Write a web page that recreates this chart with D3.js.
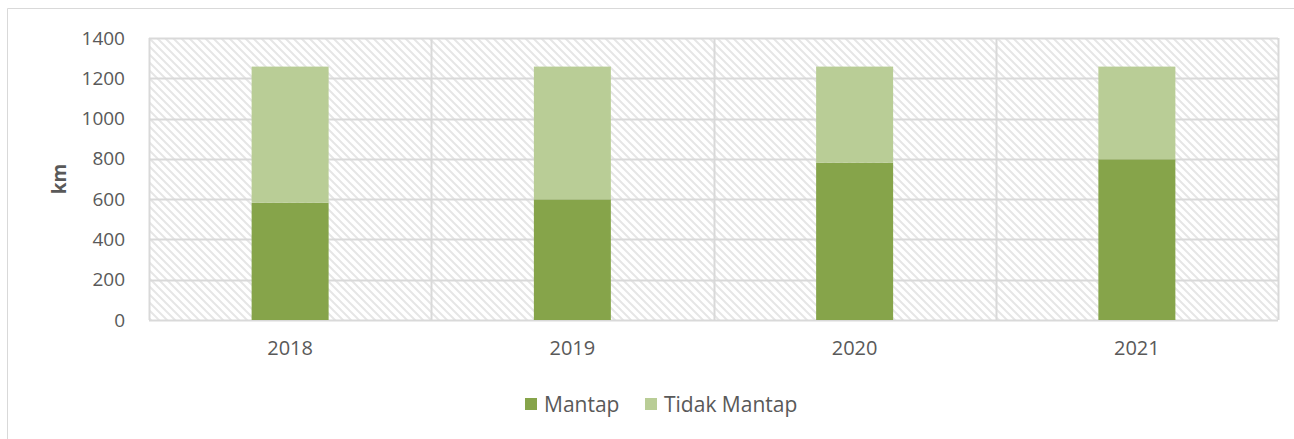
<!DOCTYPE html>
<html>
<head>
<meta charset="utf-8">
<script src="https://cdn.jsdelivr.net/npm/d3@7"></script>
<style>
  body { margin: 0; background: #fff; }
  text { font-family: "Open Sans", "Liberation Sans", sans-serif; fill: #595959; }
</style>
</head>
<body>
<svg id="chart" width="1294" height="439"></svg>
<script>
const years = ['2018', '2019', '2020', '2021'];
const mantap = [582, 599, 781, 798];
const tidakMantap = [676, 659, 477, 460];
const seriesNames = ['Mantap', 'Tidak Mantap'];
const colors = ['#86A44A', '#B9CD96'];
const yTicks = [0, 200, 400, 600, 800, 1000, 1200, 1400];

const svg = d3.select('#chart');
const margin = {top: 38, left: 149, right: 16, bottom: 119};
const width = 1294, height = 439;
const innerWidth = width - margin.left - margin.right;
const innerHeight = height - margin.top - margin.bottom;

// outer chart border, only top and left are inside the frame
svg.append('path')
    .attr('d', `M7.5,${height} V8.5 H${width}`)
    .attr('fill', 'none').attr('stroke', '#D9D9D9');

const defs = svg.append('defs');
defs.append('pattern')
    .attr('id', 'hatch')
    .attr('patternUnits', 'userSpaceOnUse')
    .attr('width', 8).attr('height', 8)
  .append('path')
    .attr('d', 'M-2,6 l4,4 M0,0 l8,8 M6,-2 l4,4')
    .attr('stroke', '#E6E6E6')
    .attr('stroke-width', 2);

const g = svg.append('g').attr('transform', `translate(${margin.left},${margin.top})`);

const x = d3.scaleBand().domain(years).range([0, innerWidth]).paddingInner(0).paddingOuter(0);
const y = d3.scaleLinear().domain([0, 1400]).range([innerHeight, 0]);

g.append('rect')
    .attr('width', innerWidth).attr('height', innerHeight)
    .attr('fill', 'url(#hatch)');

// horizontal gridlines
g.selectAll('.hgrid').data(yTicks).join('line')
    .attr('class', 'hgrid')
    .attr('x1', 0).attr('x2', innerWidth)
    .attr('y1', d => Math.round(y(d)) + 0.5).attr('y2', d => Math.round(y(d)) + 0.5)
    .attr('stroke', '#D9D9D9').attr('stroke-width', 2);

// vertical gridlines at category edges
const edges = years.map(d => x(d)).concat([innerWidth]);
g.selectAll('.vgrid').data(edges).join('line')
    .attr('class', 'vgrid')
    .attr('x1', d => Math.round(d) + 0.5).attr('x2', d => Math.round(d) + 0.5)
    .attr('y1', 0).attr('y2', innerHeight)
    .attr('stroke', '#D9D9D9').attr('stroke-width', 2);

const table = years.map((yr, i) => ({year: yr, Mantap: mantap[i], 'Tidak Mantap': tidakMantap[i]}));
const stacked = d3.stack().keys(seriesNames)(table);

const barW = 77;
g.selectAll('.series').data(stacked).join('g')
    .attr('fill', (d, i) => colors[i])
  .selectAll('rect').data(d => d).join('rect')
    .attr('x', d => x(d.data.year) + x.bandwidth() / 2 - barW / 2)
    .attr('width', barW)
    .attr('y', d => y(d[1]))
    .attr('height', d => y(d[0]) - y(d[1]));

// y axis labels
const yAxis = g.append('g')
    .call(d3.axisLeft(y).tickValues(yTicks).tickFormat(d3.format('d')).tickSize(0).tickPadding(24));
yAxis.select('.domain').remove();
yAxis.selectAll('text').style('font-size', '19px').attr('fill', '#595959')
    .style('font-family', '"Open Sans", sans-serif');

// x axis labels
const xAxis = g.append('g').attr('transform', `translate(0,${innerHeight})`)
    .call(d3.axisBottom(x).tickSize(0).tickPadding(21));
xAxis.select('.domain').remove();
xAxis.selectAll('text').style('font-size', '20px').attr('fill', '#595959')
    .style('font-family', '"Open Sans", sans-serif');

// axis title
svg.append('text')
    .attr('transform', `translate(66,${margin.top + innerHeight / 2}) rotate(-90)`)
    .attr('text-anchor', 'middle')
    .style('font-size', '19px').style('font-weight', 'bold')
    .text('km');

// legend
const legendX = [525, 645];
const legend = svg.append('g');
seriesNames.forEach((name, i) => {
    legend.append('rect')
        .attr('x', legendX[i]).attr('y', 398)
        .attr('width', 12).attr('height', 12)
        .attr('fill', colors[i]);
    legend.append('text')
        .attr('x', legendX[i] + 19).attr('y', 412)
        .style('font-size', '21px')
        .text(name);
});
</script>
</body>
</html>
